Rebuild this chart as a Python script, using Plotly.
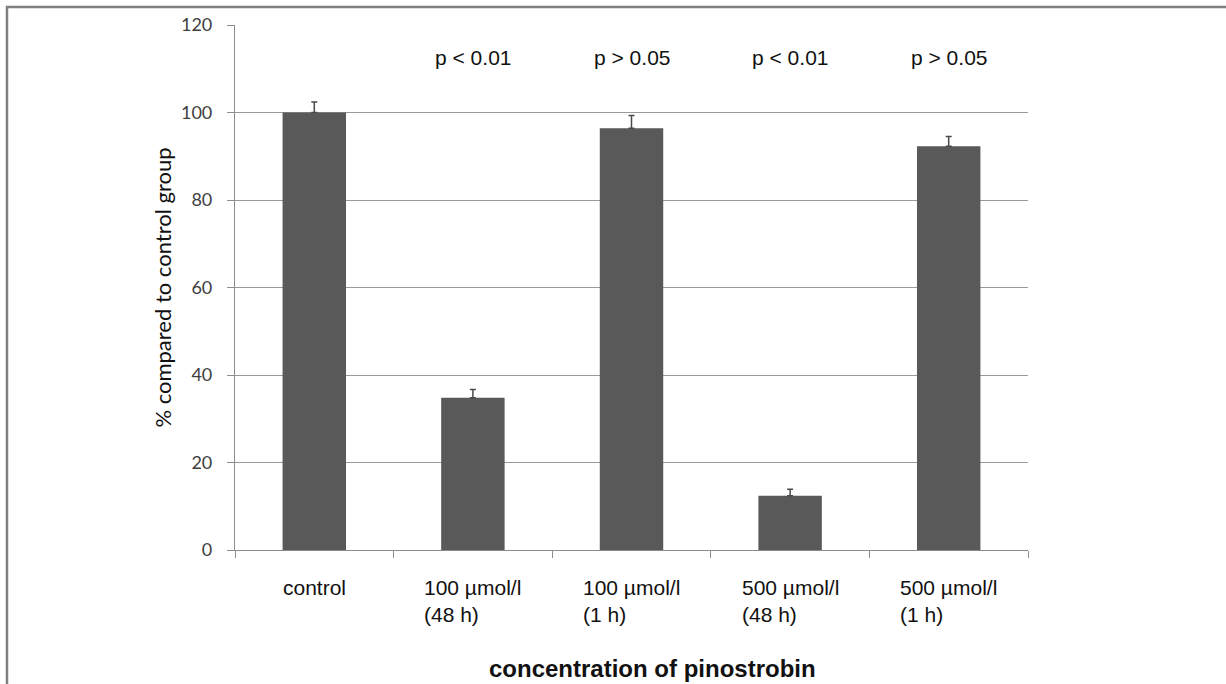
import plotly.graph_objects as go

categories = ["control", "100 µmol/l<br>(48 h)", "100 µmol/l<br>(1 h)",
              "500 µmol/l<br>(48 h)", "500 µmol/l<br>(1 h)"]
values = [100.0, 34.8, 96.4, 12.4, 92.3]
errors = [2.4, 1.9, 2.9, 1.5, 2.2]
p_labels = ["", "p < 0.01", "p > 0.05", "p < 0.01", "p > 0.05"]
y_ticks = [0, 20, 40, 60, 80, 100, 120]

W, H = 1226, 684
L, R, T, B = 235, 198, 25, 134
pw, ph = W - L - R, H - T - B

def px_x(px):
    return (px - L) / pw

def px_y(py):
    return (H - B - py) / ph

xs = list(range(len(categories)))

fig = go.Figure()
fig.add_trace(go.Bar(
    x=xs, y=values,
    marker=dict(color="#595959", line=dict(width=0)),
    error_y=dict(type="data", array=errors, arrayminus=[0]*len(errors),
                 symmetric=False, color="#4a4a4a", thickness=1.5, width=3),
    width=0.4,
    hoverinfo="y",
))

ann = []
for i, lab in enumerate(categories):
    ann.append(dict(x=i, xref="x", y=0, yref="paper", yanchor="top",
                    xanchor="center", yshift=-24, text=lab, align="left",
                    showarrow=False,
                    font=dict(family="Liberation Sans, Arial", size=21, color="#111111")))
for i, p in enumerate(p_labels):
    if p:
        ann.append(dict(x=i, xref="x", y=112.6, yref="y", yanchor="middle",
                        xanchor="center", text=p, showarrow=False,
                        font=dict(family="Liberation Sans, Arial", size=21, color="#111111")))
ann.append(dict(x=px_x(652), xref="paper", y=px_y(668), yref="paper",
                xanchor="center", yanchor="middle",
                text="<b>concentration of pinostrobin</b>", showarrow=False,
                font=dict(family="Liberation Sans, Arial", size=24, color="#111111")))

shapes = [
    dict(type="line", xref="paper", yref="paper",
         x0=px_x(6), x1=px_x(W + 5), y0=px_y(7), y1=px_y(7),
         line=dict(color="#7f7f7f", width=2.5)),
    dict(type="line", xref="paper", yref="paper",
         x0=px_x(7), x1=px_x(7), y0=px_y(6), y1=px_y(H + 5),
         line=dict(color="#7f7f7f", width=2.5)),
]

fig.update_layout(
    width=W, height=H,
    margin=dict(l=L, r=R, t=T, b=B, pad=0),
    paper_bgcolor="white", plot_bgcolor="white",
    showlegend=False,
    annotations=ann,
    shapes=shapes,
    xaxis=dict(range=[-0.5, len(categories) - 0.5],
               tickvals=[i - 0.5 for i in range(len(categories) + 1)],
               showticklabels=False, ticks="outside", ticklen=7,
               tickcolor="#8c8c8c", tickwidth=1.2,
               showline=True, linecolor="#8c8c8c", linewidth=1.2,
               showgrid=False, zeroline=False, fixedrange=True),
    yaxis=dict(range=[0, 120], tickvals=y_ticks,
               ticks="outside", ticklen=7, tickcolor="#8c8c8c", tickwidth=1.2,
               showline=True, linecolor="#8c8c8c", linewidth=1.2,
               showgrid=True, gridcolor="#9a9a9a", gridwidth=1,
               zeroline=False,
               tickfont=dict(family="Lato", size=18, color="#404040"),
               ticklabelstandoff=11,
               title=dict(text="% compared to control group",
                          font=dict(family="Lato", size=22, color="#111111"),
                          standoff=3),
               fixedrange=True),
)

fig.write_html("out.html")
